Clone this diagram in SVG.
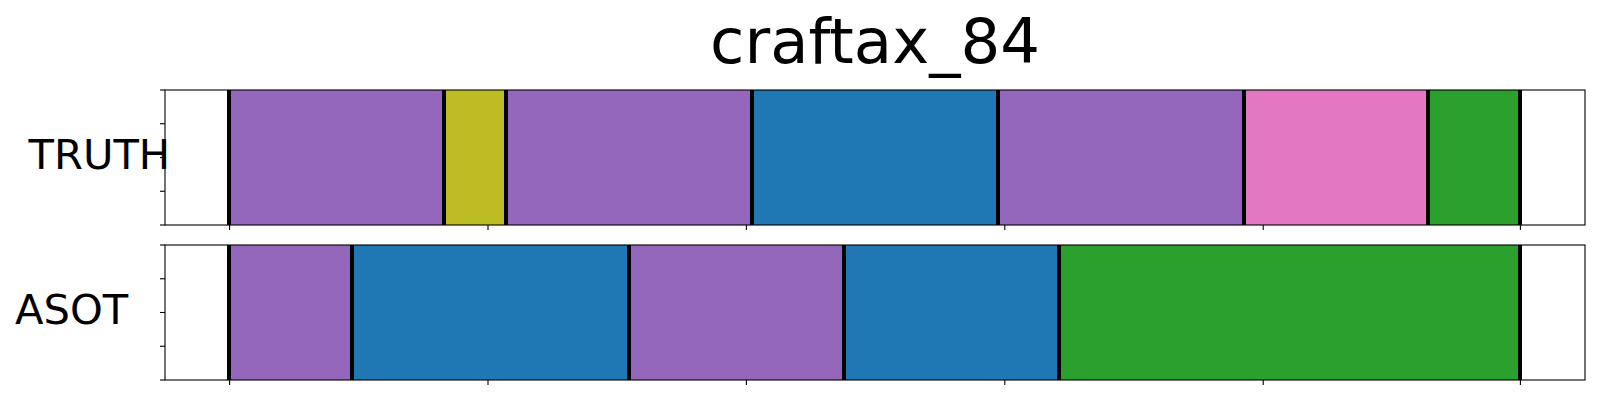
<svg xmlns="http://www.w3.org/2000/svg" width="1600" height="400" viewBox="0 0 1600 400">
<style>
.t{font-family:"DejaVu Sans","Liberation Sans",sans-serif;fill:#000}
.pu{fill:#9467bd}.ol{fill:#bcbd22}.bl{fill:#1f77b4}.pk{fill:#e377c2}.gr{fill:#2ca02c}
.b{stroke:#000;stroke-width:4}
.fr{fill:none;stroke:#000;stroke-width:1.1}
.tk{stroke:#000;stroke-width:1.1}
</style>
<rect width="1600" height="400" fill="#fff"/>
<text class="t" x="875" y="63" font-size="62.5" text-anchor="middle">craftax_84</text>
<g id="truth">
<text class="t" x="28.5" y="168.5" font-size="41.67">TRUTH</text>
<rect class="pu" x="229" y="90" width="215" height="135"/>
<rect class="ol" x="444" y="90" width="62" height="135"/>
<rect class="pu" x="506" y="90" width="246" height="135"/>
<rect class="bl" x="752" y="90" width="246" height="135"/>
<rect class="pu" x="998" y="90" width="246" height="135"/>
<rect class="pk" x="1244" y="90" width="184" height="135"/>
<rect class="gr" x="1428" y="90" width="92" height="135"/>
<g class="b">
<line x1="229" y1="90" x2="229" y2="225"/><line x1="444" y1="90" x2="444" y2="225"/>
<line x1="506" y1="90" x2="506" y2="225"/><line x1="752" y1="90" x2="752" y2="225"/>
<line x1="998" y1="90" x2="998" y2="225"/><line x1="1244" y1="90" x2="1244" y2="225"/>
<line x1="1428" y1="90" x2="1428" y2="225"/><line x1="1520" y1="90" x2="1520" y2="225"/>
</g>
<rect class="fr" x="165" y="90" width="1420" height="135"/>
<g class="tk">
<line x1="160" y1="90" x2="165" y2="90"/><line x1="160" y1="123.75" x2="165" y2="123.75"/>
<line x1="160" y1="157.5" x2="165" y2="157.5"/><line x1="160" y1="191.25" x2="165" y2="191.25"/>
<line x1="160" y1="225" x2="165" y2="225"/>
<line x1="229.6" y1="225" x2="229.6" y2="230"/><line x1="488" y1="225" x2="488" y2="230"/>
<line x1="746.4" y1="225" x2="746.4" y2="230"/><line x1="1004.8" y1="225" x2="1004.8" y2="230"/>
<line x1="1263.2" y1="225" x2="1263.2" y2="230"/><line x1="1520.4" y1="225" x2="1520.4" y2="230"/>
</g>
</g>
<g id="asot">
<text class="t" x="15" y="323.5" font-size="41.67">ASOT</text>
<rect class="pu" x="229" y="245" width="123" height="135"/>
<rect class="bl" x="352" y="245" width="277" height="135"/>
<rect class="pu" x="629" y="245" width="215" height="135"/>
<rect class="bl" x="844" y="245" width="215" height="135"/>
<rect class="gr" x="1059" y="245" width="461" height="135"/>
<g class="b">
<line x1="229" y1="245" x2="229" y2="380"/><line x1="352" y1="245" x2="352" y2="380"/>
<line x1="629" y1="245" x2="629" y2="380"/><line x1="844" y1="245" x2="844" y2="380"/>
<line x1="1059" y1="245" x2="1059" y2="380"/><line x1="1520" y1="245" x2="1520" y2="380"/>
</g>
<rect class="fr" x="165" y="245" width="1420" height="135"/>
<g class="tk">
<line x1="160" y1="245" x2="165" y2="245"/><line x1="160" y1="278.75" x2="165" y2="278.75"/>
<line x1="160" y1="312.5" x2="165" y2="312.5"/><line x1="160" y1="346.25" x2="165" y2="346.25"/>
<line x1="160" y1="380" x2="165" y2="380"/>
<line x1="229.6" y1="380" x2="229.6" y2="385"/><line x1="488" y1="380" x2="488" y2="385"/>
<line x1="746.4" y1="380" x2="746.4" y2="385"/><line x1="1004.8" y1="380" x2="1004.8" y2="385"/>
<line x1="1263.2" y1="380" x2="1263.2" y2="385"/><line x1="1520.4" y1="380" x2="1520.4" y2="385"/>
</g>
</g>
</svg>
